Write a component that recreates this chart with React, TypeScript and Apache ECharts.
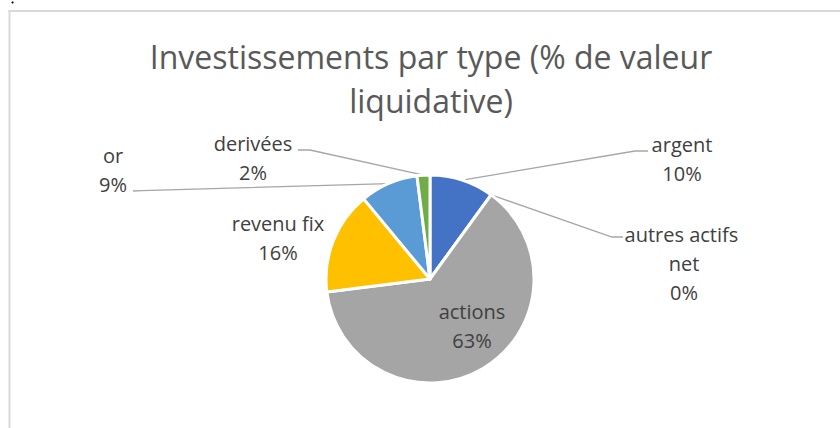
import React, { useEffect, useRef } from "react";
import * as echarts from "echarts";

const TITLE = "Investissements par type (% de valeur\nliquidative)";
const CATEGORIES = ["argent", "autres actifs net", "actions", "revenu fix", "or", "derivées"];
const VALUES = [10, 0, 63, 16, 9, 2];
const COLORS = ["#4472C4", "#ED7D31", "#A5A5A5", "#FFC000", "#5B9BD5", "#70AD47"];

// label anchor positions (layout only)
const LABEL_LAYOUT: Record<string, { x: number; y: number; line?: number[][] }> = {
  argent: { x: 682, y: 159, line: [[635, 151], [648, 151]] },
  "autres actifs net": { x: 684, y: 263, line: [[612, 237], [623, 237]] },
  actions: { x: 472, y: 326 },
  "revenu fix": { x: 278, y: 238 },
  or: { x: 113, y: 170, line: [[142, 190.7], [133, 191]] },
  "derivées": { x: 253, y: 158, line: [[310, 150], [298, 150]] },
};

const FONT = "'Open Sans', 'Liberation Sans', sans-serif";

export default function App() {
  const ref = useRef<HTMLDivElement>(null);
  useEffect(() => {
    if (!ref.current) return;
    const chart = echarts.init(ref.current, null, { renderer: "svg" });
    const data = CATEGORIES.map((name, i) => {
      const item: any = {
        name,
        value: VALUES[i],
        itemStyle: { color: COLORS[i] },
      };
      if (name === "actions") {
        item.label = { position: "inside" };
        item.labelLine = { show: false };
      } else if (name === "revenu fix") {
        item.labelLine = { show: false };
      } else if (name === "autres actifs net") {
        item.label = { width: 130, overflow: "break" };
      }
      return item;
    });
    chart.setOption({
      animation: false,
      backgroundColor: "#ffffff",
      title: {
        text: TITLE,
        left: 431,
        top: 34,
        padding: 0,
        textAlign: "center",
        textStyle: {
          fontFamily: FONT,
          fontSize: 32,
          fontWeight: "normal",
          color: "#595959",
          lineHeight: 44,
        },
      },
      graphic: [
        {
          type: "line",
          shape: { x1: 8.5, y1: 11, x2: 840, y2: 11 },
          style: { stroke: "#D9D9D9", lineWidth: 2 },
          silent: true,
          z: -10,
        },
        {
          type: "line",
          shape: { x1: 9.5, y1: 10, x2: 9.5, y2: 428 },
          style: { stroke: "#D9D9D9", lineWidth: 2 },
          silent: true,
          z: -10,
        },
        {
          type: "circle",
          shape: { cx: 12.5, cy: 2.5, r: 1 },
          style: { fill: "#000" },
          silent: true,
        },
      ],
      series: [
        {
          type: "pie",
          center: [430, 279],
          radius: 104,
          startAngle: 90,
          clockwise: true,
          percentPrecision: 0,
          itemStyle: { borderColor: "#ffffff", borderWidth: 3 },
          label: {
            show: true,
            position: "outside",
            formatter: "{b}\n{d}%",
            fontFamily: FONT,
            fontSize: 20,
            lineHeight: 29,
            color: "#404040",
            align: "center",
          },
          labelLine: {
            show: true,
            lineStyle: { color: "#A6A6A6", width: 1.3 },
          },
          labelLayout: (params: any) => {
            const name = CATEGORIES[params.dataIndex];
            const L = LABEL_LAYOUT[name];
            const res: any = { x: L.x, y: L.y, align: "center", verticalAlign: "middle" };
            if (L.line && params.labelLinePoints) {
              const start = params.labelLinePoints[0];
              res.labelLinePoints = [start, L.line[0], L.line[1]];
            }
            return res;
          },
          emphasis: { disabled: true },
          data,
        },
      ],
    });
    return () => chart.dispose();
  }, []);
  return (
    <div
      ref={ref}
      style={{ position: "fixed", left: 0, top: 0, width: 840, height: 428 }}
    />
  );
}
